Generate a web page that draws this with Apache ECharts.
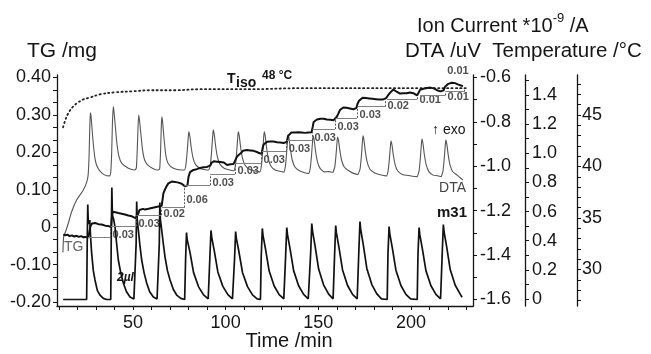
<!DOCTYPE html>
<html>
<head>
<meta charset="utf-8">
<script src="https://cdn.jsdelivr.net/npm/echarts@6/dist/echarts.min.js"></script>
<style>
  html, body { margin: 0; padding: 0; background: #ffffff; }
  #chart { width: 651px; height: 354px; }
</style>
</head>
<body>
<div id="chart"></div>
<script>
// ---- Time axis (min) ----
const timeRange = [9.0, 233.5];
const timeLabels = [50, 100, 150, 200];
const timeTicks = [10, 20, 30, 40, 50, 60, 70, 80, 90, 100, 110, 120, 130, 140, 150, 160, 170, 180, 190, 200, 210, 220, 230];

// ---- TG axis (mg) ----
const tgRange = [-0.2107, 0.4067];
const tgLabels = [-0.2, -0.1, 0, 0.1, 0.2, 0.3, 0.4];
const tgTicks = [-0.2, -0.1667, -0.1333, -0.1, -0.0667, -0.0333, 0, 0.0333, 0.0667, 0.1, 0.1333, 0.1667, 0.2, 0.2333, 0.2667, 0.3, 0.3333, 0.3667, 0.4];

// ---- Ion current axis (*1e-9 A) ----
const ionRange = [-1.6293, -0.5887];
const ionLabels = [-1.6, -1.4, -1.2, -1.0, -0.8, -0.6];
const ionTicks = [-1.6, -1.5, -1.4, -1.3, -1.2, -1.1, -1.0, -0.9, -0.8, -0.7, -0.6];

// ---- DTA axis (uV) ----
const dtaRange = [-0.048, 1.537];
const dtaLabels = [0, 0.2, 0.4, 0.6, 0.8, 1.0, 1.2, 1.4];
const dtaTicks = [0, 0.1, 0.2, 0.3, 0.4, 0.5, 0.6, 0.7, 0.8, 0.9, 1.0, 1.1, 1.2, 1.3, 1.4, 1.5];

// ---- Temperature axis (°C) ----
const tempRange = [26.46, 48.88];
const tempLabels = [30, 35, 40, 45];
const tempTicks = [27, 28, 29, 30, 31, 32, 33, 34, 35, 36, 37, 38, 39, 40, 41, 42, 43, 44, 45, 46, 47, 48];

// ---- Sample temperature [min, °C] ----
const temperature = [
  [12.3, 43.8], [13.3, 44.4], [14.9, 45.1], [17.6, 45.8], [20.3, 46.2], [23.0, 46.5],
  [26.8, 46.7], [32.2, 47.0], [40.3, 47.2], [50.0, 47.3], [59.2, 47.4], [72.7, 47.4],
  [86.2, 47.5], [113.2, 47.5], [140.1, 47.6], [194.0, 47.6], [230.0, 47.6]
];

// ---- DTA signal [min, uV] ----
const dta = [
  [12.2, 0.32], [12.6, 0.43], [13.3, 0.451], [15.1, 0.520], [16.9, 0.599], [19.6, 0.679], [23.2, 0.748],
  [25.0, 0.800], [25.8, 0.850], [26.3, 0.980], [26.7, 1.180], [27.0, 1.277], [27.4, 1.250], [27.9, 1.170],
  [28.7, 1.050], [29.7, 0.950], [31.0, 0.900], [33.1, 0.865], [35.8, 0.846], [37.4, 0.845],
  [38.0, 0.870], [38.5, 1.000], [38.9, 1.200], [39.4, 1.320], [39.8, 1.280], [40.5, 1.180], [41.4, 1.060],
  [42.4, 0.980], [43.9, 0.932], [47.5, 0.897], [51.0, 0.885],
  [51.8, 0.900], [52.3, 1.020], [52.7, 1.170], [53.1, 1.263], [53.5, 1.230], [54.2, 1.140], [55.2, 1.020],
  [56.4, 0.950], [58.3, 0.915], [62.8, 0.885], [64.2, 0.890],
  [64.5, 0.905], [65.0, 1.050], [65.3, 1.190], [65.6, 1.251], [66.0, 1.215], [66.7, 1.110], [67.7, 0.990],
  [69.0, 0.930], [71.8, 0.897], [76.0, 0.885], [77.8, 0.885],
  [78.6, 0.924], [79.3, 1.017], [79.9, 1.122], [80.2, 1.148], [80.7, 1.116], [81.4, 1.043], [82.4, 0.969],
  [83.8, 0.922], [86.2, 0.896], [88.4, 0.889], [90.5, 0.885],
  [91.0, 0.886], [91.8, 0.926], [92.5, 1.023], [93.1, 1.133], [93.4, 1.160], [93.9, 1.127], [94.6, 1.050],
  [95.6, 0.973], [97.0, 0.924], [99.4, 0.896], [101.8, 0.887], [104.0, 0.880],
  [104.5, 0.880], [105.3, 0.920], [106.0, 1.014], [106.6, 1.121], [106.9, 1.148], [107.4, 1.116], [108.1, 1.041],
  [109.1, 0.966], [110.5, 0.918], [112.9, 0.890], [115.2, 0.880], [117.5, 0.874],
  [118.5, 0.872], [119.3, 0.913], [120.0, 1.010], [120.6, 1.120], [120.9, 1.148], [121.4, 1.115], [122.1, 1.038],
  [123.1, 0.960], [124.5, 0.911], [126.9, 0.883], [129.0, 0.877], [131.0, 0.872],
  [131.4, 0.870], [132.2, 0.908], [132.9, 0.998], [133.5, 1.100], [133.8, 1.126], [134.3, 1.095], [135.0, 1.024],
  [136.0, 0.952], [137.4, 0.906], [139.8, 0.880], [142.2, 0.868], [144.5, 0.862],
  [144.9, 0.862], [145.7, 0.901], [146.4, 0.991], [147.0, 1.094], [147.3, 1.120], [147.8, 1.089], [148.5, 1.017],
  [149.5, 0.945], [150.9, 0.898], [153.3, 0.872], [155.6, 0.874], [158.0, 0.870],
  [158.1, 0.870], [158.9, 0.906], [159.6, 0.991], [160.2, 1.088], [160.5, 1.112], [161.0, 1.083], [161.7, 1.015],
  [162.7, 0.947], [164.1, 0.904], [166.5, 0.880], [169.0, 0.862], [171.5, 0.855],
  [171.8, 0.855], [172.6, 0.895], [173.3, 0.987], [173.9, 1.093], [174.2, 1.119], [174.7, 1.087], [175.4, 1.013],
  [176.4, 0.939], [177.8, 0.892], [180.2, 0.866], [183.4, 0.852], [186.5, 0.845],
  [186.9, 0.845], [187.7, 0.881], [188.4, 0.965], [189.0, 1.060], [189.3, 1.084], [189.8, 1.055], [190.5, 0.988],
  [191.5, 0.921], [192.9, 0.878], [195.3, 0.855], [199.4, 0.846], [203.5, 0.840],
  [203.6, 0.840], [204.4, 0.879], [205.1, 0.969], [205.7, 1.072], [206.0, 1.098], [206.5, 1.067], [207.2, 0.995],
  [208.2, 0.923], [209.6, 0.876], [212.0, 0.850], [214.2, 0.846], [216.4, 0.840],
  [216.5, 0.840], [217.3, 0.878], [218.0, 0.966], [218.6, 1.066], [218.9, 1.091], [219.4, 1.061], [220.1, 0.991],
  [221.1, 0.920], [222.5, 0.875], [224.9, 0.850], [226.6, 0.832], [228.1, 0.817]
];

// ---- Mass change TG [min, mg] ----
const tg = [
  [12.4, -0.019], [13.5, -0.022], [14.6, -0.020], [15.8, -0.024], [17.0, -0.022], [18.3, -0.025], [19.6, -0.023],
  [20.8, -0.026], [22.0, -0.024], [23.3, -0.027], [24.4, -0.026], [25.3, -0.029], [25.9, -0.028], [26.5, -0.012],
  [27.1, 0.003], [27.9, 0.010], [28.8, 0.007], [29.6, 0.011], [30.4, 0.006], [31.3, 0.008], [32.2, 0.005],
  [33.2, 0.007], [34.1, 0.003], [35.0, 0.004], [35.9, 0.001], [36.8, 0.003], [37.6, 0.000], [38.2, 0.000],
  [38.6, 0.025], [39.0, 0.041], [39.7, 0.037], [40.5, 0.040], [41.2, 0.036], [42.1, 0.038], [43.0, 0.034],
  [43.9, 0.036], [44.8, 0.032], [45.7, 0.034], [46.6, 0.030], [47.5, 0.031], [48.4, 0.028], [49.4, 0.029],
  [50.4, 0.025], [51.4, 0.024], [52.2, 0.023], [52.8, 0.035], [53.5, 0.046], [54.4, 0.045], [55.4, 0.049],
  [56.5, 0.047], [57.5, 0.050], [58.4, 0.049], [59.2, 0.052], [60.1, 0.051], [61.0, 0.054], [61.9, 0.053],
  [62.8, 0.056], [63.7, 0.055], [64.6, 0.058], [65.5, 0.057], [66.0, 0.075], [66.4, 0.090], [67.3, 0.101],
  [68.2, 0.110], [69.1, 0.117], [70.0, 0.119], [70.9, 0.122], [71.8, 0.120], [72.7, 0.121], [73.6, 0.117],
  [74.5, 0.119], [75.4, 0.115], [76.3, 0.116], [77.2, 0.112], [78.1, 0.109], [78.8, 0.107], [79.4, 0.112],
  [80.0, 0.135], [80.8, 0.147], [81.7, 0.149], [82.6, 0.153], [83.5, 0.151], [84.4, 0.155], [85.3, 0.154],
  [86.2, 0.158], [87.1, 0.157], [88.0, 0.160], [89.0, 0.158], [90.0, 0.161], [91.0, 0.163], [91.8, 0.165],
  [92.3, 0.172], [92.7, 0.177], [93.6, 0.176], [94.5, 0.179], [95.4, 0.175], [96.3, 0.177], [97.2, 0.174],
  [98.1, 0.172], [99.0, 0.173], [100.0, 0.168], [100.8, 0.166], [101.7, 0.170], [102.6, 0.168], [103.5, 0.171],
  [104.3, 0.169], [105.2, 0.171], [106.0, 0.187], [107.0, 0.193], [108.3, 0.198], [109.3, 0.204], [110.3, 0.201],
  [111.5, 0.206], [112.4, 0.204], [113.3, 0.205], [114.2, 0.202], [115.1, 0.204], [116.0, 0.200], [116.9, 0.201],
  [118.0, 0.198], [119.0, 0.199], [119.4, 0.196], [120.0, 0.212], [120.5, 0.221], [121.4, 0.225], [122.3, 0.228],
  [123.2, 0.226], [124.1, 0.229], [125.0, 0.227], [125.9, 0.229], [126.8, 0.225], [127.7, 0.227], [128.6, 0.224],
  [129.5, 0.226], [130.4, 0.223], [131.3, 0.225], [132.3, 0.222], [133.0, 0.228], [133.7, 0.244], [134.6, 0.249],
  [135.5, 0.253], [136.4, 0.255], [137.3, 0.253], [138.2, 0.256], [139.2, 0.254], [140.1, 0.256], [141.0, 0.253],
  [141.9, 0.255], [142.8, 0.252], [143.7, 0.255], [144.6, 0.253], [145.5, 0.256], [146.4, 0.254], [147.0, 0.268],
  [147.5, 0.281], [148.4, 0.285], [149.3, 0.288], [150.2, 0.287], [151.1, 0.290], [152.0, 0.288], [152.9, 0.290],
  [153.8, 0.286], [154.7, 0.288], [155.6, 0.285], [156.5, 0.287], [157.4, 0.284], [158.3, 0.286], [159.3, 0.285],
  [160.0, 0.295], [160.7, 0.302], [161.7, 0.313], [162.6, 0.317], [163.5, 0.320], [164.4, 0.322], [165.3, 0.319],
  [166.2, 0.321], [167.1, 0.317], [168.0, 0.319], [168.9, 0.315], [169.8, 0.316], [170.5, 0.318], [171.2, 0.330],
  [172.0, 0.338], [173.0, 0.343], [173.9, 0.346], [174.8, 0.343], [175.7, 0.345], [176.6, 0.342], [177.5, 0.344],
  [178.4, 0.341], [179.3, 0.343], [180.2, 0.340], [181.1, 0.342], [182.0, 0.339], [182.9, 0.341], [183.8, 0.339],
  [184.7, 0.341], [185.5, 0.339], [186.6, 0.345], [187.6, 0.352], [188.7, 0.359], [189.6, 0.364], [190.5, 0.368],
  [191.4, 0.367], [192.3, 0.362], [193.2, 0.360], [194.1, 0.357], [195.0, 0.361], [195.9, 0.358], [196.8, 0.361],
  [197.7, 0.358], [198.6, 0.362], [199.5, 0.360], [200.4, 0.362], [201.3, 0.358], [202.2, 0.356], [203.3, 0.352],
  [204.2, 0.360], [204.9, 0.367], [205.8, 0.366], [206.7, 0.370], [207.6, 0.369], [208.7, 0.372], [209.6, 0.370],
  [210.5, 0.373], [211.4, 0.369], [212.3, 0.371], [213.2, 0.368], [214.1, 0.366], [215.0, 0.368], [215.9, 0.363],
  [216.8, 0.361], [217.7, 0.366], [218.4, 0.375], [219.3, 0.379], [220.2, 0.383], [221.1, 0.385], [222.0, 0.386],
  [222.9, 0.384], [223.8, 0.385], [224.7, 0.383], [225.6, 0.381], [226.5, 0.380], [227.4, 0.378], [228.1, 0.377]
];

// ---- Ion current m31 [min, *1e-9 A] ----
const m31 = [
  [12.3, -1.600], [25.0, -1.600], [25.3, -1.350], [25.6, -1.172], [25.9, -1.260], [26.7, -1.242], [27.2, -1.330],
  [27.7, -1.391], [28.6, -1.470], [29.5, -1.512], [30.8, -1.560], [32.2, -1.580], [34.0, -1.595], [35.8, -1.600],
  [38.0, -1.600], [38.3, -1.300], [38.6, -1.095], [38.9, -1.220], [39.6, -1.240], [40.3, -1.273], [41.2, -1.350],
  [42.1, -1.422], [43.4, -1.480], [44.8, -1.526], [46.5, -1.565], [48.4, -1.589], [50.5, -1.598], [51.4, -1.600],
  [51.7, -1.350], [52.0, -1.159], [52.3, -1.240], [52.9, -1.287], [53.8, -1.360], [54.7, -1.422], [56.0, -1.480],
  [57.4, -1.526], [59.0, -1.565], [61.0, -1.589], [63.0, -1.598], [63.9, -1.600],
  [64.2, -1.350], [64.5, -1.163], [64.8, -1.240], [65.5, -1.287], [66.4, -1.350], [67.3, -1.409], [68.6, -1.470],
  [70.0, -1.512], [71.8, -1.555], [73.6, -1.580], [75.8, -1.595], [77.9, -1.600],
  [78.0, -1.600], [78.4, -1.420], [78.9, -1.298], [79.2, -1.328], [80.8, -1.389], [82.7, -1.479], [85.4, -1.543],
  [88.1, -1.579], [90.6, -1.597], [91.1, -1.600],
  [91.5, -1.410], [92.1, -1.289], [92.5, -1.320], [93.9, -1.382], [95.8, -1.476], [98.5, -1.541], [101.2, -1.578],
  [103.7, -1.597], [104.4, -1.600],
  [104.8, -1.420], [105.4, -1.294], [105.8, -1.325], [107.2, -1.386], [109.1, -1.478], [111.8, -1.542], [114.5, -1.579],
  [117.0, -1.597], [118.8, -1.600],
  [119.2, -1.410], [119.8, -1.280], [120.2, -1.312], [121.6, -1.376], [123.5, -1.472], [126.2, -1.539], [128.9, -1.578],
  [131.4, -1.597], [132.0, -1.600],
  [132.4, -1.400], [133.0, -1.276], [133.4, -1.308], [134.8, -1.373], [136.7, -1.470], [139.4, -1.538], [142.1, -1.577],
  [144.6, -1.597], [145.5, -1.600],
  [145.9, -1.390], [146.5, -1.258], [146.9, -1.292], [148.3, -1.361], [150.2, -1.463], [152.9, -1.535], [155.6, -1.576],
  [158.0, -1.597], [158.4, -1.600],
  [158.8, -1.400], [159.4, -1.267], [159.8, -1.300], [161.2, -1.367], [163.1, -1.467], [165.8, -1.537], [168.5, -1.577],
  [171.0, -1.597], [171.5, -1.600],
  [171.9, -1.380], [172.5, -1.249], [172.9, -1.284], [174.3, -1.354], [176.2, -1.460], [178.9, -1.533], [181.6, -1.575],
  [184.1, -1.597], [187.2, -1.600],
  [187.6, -1.400], [188.2, -1.271], [188.6, -1.304], [190.0, -1.370], [191.9, -1.468], [194.6, -1.537], [197.3, -1.577],
  [199.8, -1.597], [203.4, -1.600],
  [203.8, -1.400], [204.4, -1.276], [204.8, -1.308], [206.2, -1.373], [208.1, -1.470], [210.8, -1.538], [213.5, -1.577],
  [216.0, -1.597], [216.5, -1.600],
  [216.9, -1.390], [217.5, -1.262], [217.9, -1.296], [219.3, -1.363], [221.2, -1.465], [223.9, -1.536], [226.6, -1.576],
  [227.6, -1.590]
];

// ---- Retained mass after each dose: start / end of the step (min), base level and gain (mg) ----
const stepStart = [25.7, 38.2, 52.2, 65.7, 78.1, 91.6, 105.1, 119.6, 133.1, 147.2, 159.6, 171.4, 187.1, 204.9, 218.6];
const stepEnd   = [37.6, 51.6, 65.1, 77.5, 91.6, 105.1, 119.1, 132.7, 146.6, 159.0, 170.9, 186.0, 203.3, 218.4, 228.6];
const stepBase  = [-0.028, 0.002, 0.032, 0.052, 0.112, 0.142, 0.172, 0.202, 0.232, 0.262, 0.292, 0.322, 0.342, 0.352, 0.362];
const stepGain  = [0.03, 0.03, 0.02, 0.06, 0.03, 0.03, 0.03, 0.03, 0.03, 0.03, 0.03, 0.02, 0.01, 0.01, 0.01];

const FONT = '"Liberation Sans", Arial, Helvetica, sans-serif';
const INK = '#151515';

function fmt2(v) { return Math.abs(v) < 1e-9 ? '0' : v.toFixed(2); }
function fmt1(v) { return Math.abs(v) < 1e-9 ? '0' : v.toFixed(1); }

function yAxisDef(range, labels, ticks, formatter, position, offset, margin) {
  return {
    type: 'value', min: range[0], max: range[1], position: position, offset: offset,
    axisLine: { show: true, onZero: false, lineStyle: { color: INK, width: 1.3 } },
    axisTick: { show: true, customValues: ticks, length: 4, lineStyle: { color: INK, width: 1 } },
    axisLabel: { show: true, customValues: labels, formatter: formatter, fontSize: 18, color: INK, fontFamily: FONT, margin: margin },
    splitLine: { show: false }
  };
}

// Step brackets: horizontal at the base level, vertical spanning the retained gain
const stepLines = [];
const stepLabels = [];
for (let i = 0; i < stepGain.length; i++) {
  const top = stepBase[i] + stepGain[i];
  stepLines.push([
    { coord: [stepStart[i], stepBase[i]], lineStyle: { color: '#808080', width: 1, type: 'solid' } },
    { coord: [stepEnd[i], stepBase[i]] }
  ]);
  stepLines.push([
    { coord: [stepEnd[i], stepBase[i]], lineStyle: { color: '#555', width: 1, type: [2, 1.5] } },
    { coord: [stepEnd[i], top] }
  ]);
  const last = i === stepGain.length - 1;
  stepLabels.push({
    value: [stepEnd[i], stepBase[i] + stepGain[i] / 2, stepGain[i].toFixed(2)],
    label: last
      ? { position: 'top', offset: [-6, -8] }
      : { position: 'right', distance: 2, offset: [0, 3] }
  });
}

const chart = echarts.init(document.getElementById('chart'), null, { renderer: 'canvas', width: 651, height: 354 });

const txt = (x, y, text, size, extra) => ({
  type: 'text', x: x, y: y,
  style: Object.assign({
    text: text, fontSize: size, fontFamily: FONT, fill: INK,
    textAlign: 'left', textVerticalAlign: 'middle', align: 'left', verticalAlign: 'middle'
  }, extra || {})
});

chart.setOption({
  animation: false,
  backgroundColor: '#ffffff',
  grid: { left: 57, right: 178, top: 75, bottom: 48, containLabel: false },
  xAxis: {
    type: 'value', min: timeRange[0], max: timeRange[1],
    axisLine: { show: true, onZero: false, lineStyle: { color: INK, width: 1.3 } },
    axisTick: { show: true, customValues: timeTicks, length: 4, lineStyle: { color: INK, width: 1 } },
    axisLabel: { show: true, customValues: timeLabels, fontSize: 18, color: INK, fontFamily: FONT, margin: 8 },
    splitLine: { show: false }
  },
  yAxis: [
    yAxisDef(tgRange, tgLabels, tgTicks, fmt2, 'left', 0, 6),
    yAxisDef(ionRange, ionLabels, ionTicks, fmt1, 'right', 0, 7),
    yAxisDef(dtaRange, dtaLabels, dtaTicks, fmt1, 'right', 52, 7),
    yAxisDef(tempRange, tempLabels, tempTicks, (v) => String(v), 'right', 104, 5)
  ],
  series: [
    {
      name: 'Temperature', type: 'line', yAxisIndex: 3, data: temperature, smooth: 0.4,
      symbol: 'none', lineStyle: { color: '#222', width: 1.8, type: [1.2, 3.2], cap: 'round' }
    },
    {
      name: 'DTA', type: 'line', yAxisIndex: 2, data: dta, smooth: 0.2,
      symbol: 'none', lineStyle: { color: '#555', width: 1.1 }
    },
    {
      name: 'm31', type: 'line', yAxisIndex: 1, data: m31,
      symbol: 'none', lineStyle: { color: '#111', width: 1.7 }
    },
    {
      name: 'TG', type: 'line', yAxisIndex: 0, data: tg,
      symbol: 'none', lineStyle: { color: '#111', width: 2 }
    },
    {
      name: 'steps', type: 'scatter', yAxisIndex: 0, data: stepLabels,
      symbol: 'circle', symbolSize: 1, itemStyle: { color: 'rgba(0,0,0,0)' }, silent: true,
      label: {
        show: true, formatter: (p) => p.value[2], fontSize: 11, fontWeight: 'bold',
        color: '#222', fontFamily: FONT
      },
      markLine: { silent: true, symbol: 'none', animation: false, label: { show: false }, data: stepLines }
    }
  ],
  graphic: [
    txt(27, 51, 'TG /mg', 21),
    {
      type: 'text', x: 417, y: 24,
      style: {
        text: '{a|Ion Current *10}{s|-9}{a| /A}', fill: INK,
        textAlign: 'left', textVerticalAlign: 'middle', align: 'left', verticalAlign: 'middle',
        rich: {
          a: { fontSize: 20, fontFamily: FONT, fill: INK, lineHeight: 24, verticalAlign: 'bottom' },
          s: { fontSize: 13, fontFamily: FONT, fill: INK, lineHeight: 14, verticalAlign: 'top' }
        }
      }
    },
    txt(405, 51, 'DTA /uV  Temperature /°C', 20.5),
    txt(289, 341, 'Time /min', 20, { textAlign: 'center', align: 'center' }),
    txt(227, 79, 'T', 14, { fontWeight: 'bold' }),
    txt(236, 83, 'iso', 14, { fontWeight: 'bold' }),
    txt(262, 76, '48 °C', 12, { fontWeight: 'bold' }),
    txt(432, 130, '↑ exo', 14),
    txt(466, 188, 'DTA', 14, { fill: '#444', textAlign: 'right', align: 'right' }),
    txt(467, 213, 'm31', 15, { fontWeight: 'bold', textAlign: 'right', align: 'right' }),
    txt(64, 247, 'TG', 14, { fill: '#666' }),
    txt(117, 278, '2µl', 12, { fontWeight: 'bold', fontStyle: 'italic' })
  ]
});
</script>
</body>
</html>
